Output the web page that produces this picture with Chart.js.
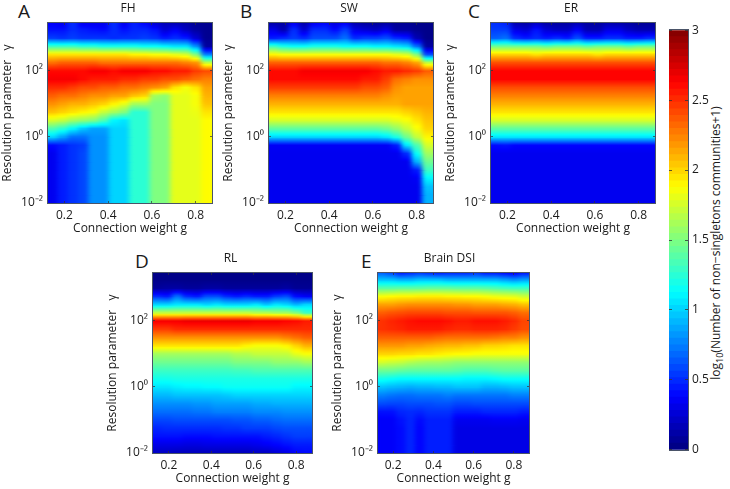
<!DOCTYPE html>
<html><head><meta charset="utf-8">
<script src="https://cdn.jsdelivr.net/npm/chart.js@4"></script>
<style>
html,body{margin:0;padding:0;background:#fff;width:730px;height:489px;overflow:hidden;font-family:"Open Sans",sans-serif;color:#1a1a1a}
canvas{position:absolute}
.letter{position:absolute;font-size:19px;line-height:20px}
#cbt{position:absolute;left:716px;top:243px;width:300px;height:16px;margin-left:-150px;margin-top:-8px;text-align:center;font-size:12px;line-height:16px;transform:rotate(-90deg);white-space:nowrap}
#cbt sub{font-size:9px;line-height:0}
</style></head><body>
<svg width="0" height="0" style="position:absolute"><filter id="hsoft" x="-5%" y="0" width="110%" height="100%" color-interpolation-filters="sRGB"><feGaussianBlur stdDeviation="2.5 0"/></filter></svg>
<div class="letter" style="left:18px;top:1px">A</div>
<div class="letter" style="left:240px;top:1px">B</div>
<div class="letter" style="left:468px;top:1px">C</div>
<div class="letter" style="left:135px;top:251px">D</div>
<div class="letter" style="left:361px;top:251px">E</div>
<div id="cbt">log<sub>10</sub>(Number of non−singletons communities+1)</div>
<script>
const gValues=[.148,.195,.242,.289,.336,.383,.430,.477,.523,.570,.617,.664,.711,.758,.805,.852];
const logGammaLevels=[3.5,3.25,3,2.75,2.5,2.25,2,1.75,1.5,1.25,1,.75,.5,.25,0,-.25,-.5,-.75,-1,-1.25,-1.5,-1.75,-2];
const xTickValues=[.2,.4,.6,.8];
const yTickValues=[.01,1,100];
const yTickLabels=["10⁻²","10⁰","10²"];
const colorbarTicks=[0,.5,1,1.5,2,2.5,3];
const colorbarLabels=["0","0.5","1","1.5","2","2.5","3"];

const fhValues=[
[.35,.3,.5,.3,.3,.3,.5,.3,.45,.35,.2,.15,.1,.1,.05,.05],
[.42,.42,.5,.45,.42,.4,.5,.42,.48,.48,.42,.25,.35,.2,.1,.05],
[.55,.52,.55,.52,.52,.52,.5,.52,.52,.55,.52,.45,.5,.45,.25,.05],
[1.3,1.3,1.3,1.25,1.25,1.2,1.2,1.2,1.2,1.15,1.15,1.1,1.05,1.05,.8,.1],
[1.95,1.95,1.95,1.95,1.95,1.95,1.95,1.95,1.9,1.9,1.85,1.85,1.8,1.75,1.5,.75],
[2.3,2.35,2.35,2.35,2.35,2.3,2.3,2.3,2.3,2.3,2.3,2.3,2.3,2.25,2.2,1.7],
[2.6,2.6,2.6,2.6,2.65,2.65,2.6,2.65,2.65,2.65,2.6,2.6,2.55,2.55,2.45,2.4],
[2.65,2.65,2.65,2.6,2.55,2.55,2.55,2.5,2.5,2.45,2.45,2.4,2.4,2.35,2.3,2.25],
[2.5,2.5,2.45,2.4,2.4,2.35,2.35,2.3,2.3,2.25,2.2,2.15,1.95,1.85,1.95,2.15],
[2.35,2.3,2.3,2.25,2.2,2.2,2.15,2.15,2.05,2,1.6,1.55,1.8,1.8,1.85,2.1],
[2.2,2.15,2.1,2.1,2.05,2,1.9,1.8,1.6,1.6,1.5,1.5,1.8,1.8,1.85,2.05],
[2.05,2,1.95,1.9,1.85,1.7,1.6,1.5,1.25,1.25,1.5,1.5,1.8,1.8,1.82,1.95],
[1.75,1.7,1.6,1.55,1.5,1.35,1.1,1.05,1.25,1.25,1.5,1.5,1.8,1.8,1.8,1.88],
[1.35,1.25,1.1,.95,.85,.85,1,1,1.25,1.25,1.5,1.5,1.8,1.8,1.8,1.88],
[1,.85,.7,.7,.8,.8,1,1,1.25,1.25,1.5,1.5,1.8,1.8,1.8,1.88],
[.4,.45,.52,.55,.8,.8,1,1,1.25,1.25,1.5,1.5,1.8,1.8,1.8,1.88],
[.33,.45,.52,.58,.8,.8,1,1,1.25,1.25,1.5,1.5,1.8,1.8,1.8,1.88],
[.33,.45,.52,.58,.8,.8,1,1,1.25,1.25,1.5,1.5,1.8,1.8,1.8,1.88],
[.33,.45,.52,.58,.8,.8,1,1,1.25,1.25,1.5,1.5,1.8,1.8,1.8,1.88],
[.33,.45,.52,.58,.8,.8,1,1,1.25,1.25,1.5,1.5,1.8,1.8,1.8,1.88],
[.33,.45,.52,.58,.8,.8,1,1,1.25,1.25,1.5,1.5,1.8,1.8,1.8,1.88],
[.33,.45,.52,.58,.8,.8,1,1,1.25,1.25,1.5,1.5,1.8,1.8,1.8,1.88],
[.33,.45,.52,.58,.8,.8,1,1,1.25,1.25,1.5,1.5,1.8,1.8,1.8,1.88]];

const swValues=[
[.08,.1,.3,.1,.3,.35,.25,.3,.1,.05,.05,.05,.05,.05,.03,.03],
[.3,.15,.5,.25,.5,.5,.4,.55,.3,.25,.2,.3,.1,.1,.05,.03],
[.45,.5,.55,.5,.6,.6,.6,.7,.5,.55,.55,.6,.5,.45,.15,.03],
[1.3,1.2,1.15,1.15,1.2,1.2,1.2,1.15,1.15,1.15,1.1,1.1,1.05,1,.7,.1],
[1.9,1.85,1.85,1.85,1.85,1.85,1.85,1.85,1.85,1.85,1.85,1.85,1.8,1.75,1.5,.6],
[2.35,2.35,2.35,2.35,2.35,2.35,2.35,2.35,2.35,2.35,2.35,2.3,2.3,2.25,2.15,1.7],
[2.6,2.6,2.6,2.65,2.65,2.65,2.65,2.65,2.65,2.65,2.6,2.55,2.55,2.5,2.45,2.35],
[2.6,2.6,2.6,2.6,2.6,2.6,2.6,2.6,2.6,2.55,2.55,2.45,2.3,2.25,2.2,2.2],
[2.45,2.45,2.45,2.45,2.45,2.45,2.45,2.45,2.45,2.4,2.4,2.35,2.2,2.15,2.15,2.15],
[2.25,2.25,2.25,2.25,2.25,2.25,2.25,2.25,2.25,2.25,2.25,2.2,2.15,2.15,2.15,2.15],
[2.1,2.1,2.1,2.1,2.1,2.1,2.1,2.1,2.1,2.1,2.1,2.1,2.1,2.15,2.15,2.15],
[1.95,1.95,1.95,1.95,1.95,1.95,1.95,1.95,1.95,1.95,1.95,1.95,1.95,2,2.05,2.1],
[1.75,1.75,1.75,1.75,1.75,1.75,1.75,1.75,1.75,1.75,1.75,1.75,1.8,1.85,1.95,2.05],
[1.4,1.4,1.4,1.4,1.4,1.4,1.4,1.4,1.4,1.4,1.4,1.45,1.55,1.7,1.85,2],
[1,1,1,1,1,1,1,1,1,1,1,1.05,1.2,1.45,1.7,1.9],
[.35,.35,.35,.35,.35,.35,.35,.35,.35,.35,.35,.35,.45,1.05,1.35,1.75],
[.33,.33,.33,.33,.33,.33,.33,.33,.33,.33,.33,.33,.33,.5,1.15,1.6],
[.33,.33,.33,.33,.33,.33,.33,.33,.33,.33,.33,.33,.33,.33,.9,1.45],
[.33,.33,.33,.33,.33,.33,.33,.33,.33,.33,.33,.33,.33,.33,.45,1.3],
[.33,.33,.33,.33,.33,.33,.33,.33,.33,.33,.33,.33,.33,.33,.35,1.1],
[.33,.33,.33,.33,.33,.33,.33,.33,.33,.33,.33,.33,.33,.33,.33,.95],
[.33,.33,.33,.33,.33,.33,.33,.33,.33,.33,.33,.33,.33,.33,.33,.9],
[.33,.33,.33,.33,.33,.33,.33,.33,.33,.33,.33,.33,.33,.33,.33,.9]];

const erValues=[
[.5,.45,.1,.08,.15,.08,.08,.08,.1,.08,.08,.1,.08,.08,.05,.05],
[.55,.55,.3,.25,.42,.25,.2,.2,.35,.15,.15,.3,.3,.2,.15,.15],
[.65,.7,.5,.45,.5,.45,.5,.45,.6,.45,.45,.5,.5,.45,.45,.5],
[1.45,1.45,1.45,1.45,1.45,1.4,1.45,1.45,1.45,1.4,1.45,1.45,1.45,1.4,1.45,1.45],
[2,2,2,2,1.95,2,2,2,2,2,1.95,2,2,2,2,2],
[2.4,2.4,2.4,2.4,2.4,2.4,2.4,2.4,2.4,2.4,2.4,2.4,2.4,2.4,2.4,2.4],
[2.62,2.62,2.62,2.62,2.62,2.62,2.62,2.62,2.62,2.62,2.62,2.62,2.62,2.62,2.62,2.62],
[2.62,2.62,2.62,2.62,2.62,2.62,2.62,2.62,2.62,2.62,2.62,2.62,2.62,2.62,2.62,2.62],
[2.4,2.4,2.4,2.4,2.4,2.4,2.4,2.4,2.4,2.4,2.4,2.4,2.4,2.4,2.4,2.4],
[2.25,2.25,2.25,2.25,2.25,2.25,2.25,2.25,2.25,2.25,2.25,2.25,2.25,2.25,2.25,2.25],
[2.1,2.1,2.1,2.1,2.1,2.1,2.1,2.1,2.1,2.1,2.1,2.1,2.1,2.1,2.1,2.1],
[1.95,1.95,1.95,1.95,1.95,1.95,1.95,1.95,1.95,1.95,1.95,1.95,1.95,1.95,1.95,1.95],
[1.75,1.75,1.75,1.75,1.75,1.75,1.75,1.75,1.75,1.75,1.75,1.75,1.75,1.75,1.75,1.75],
[1.4,1.4,1.4,1.4,1.4,1.4,1.4,1.4,1.4,1.4,1.4,1.4,1.4,1.4,1.4,1.4],
[1.05,1.05,1.05,1.05,1.05,1.05,1.05,1.05,1.05,1.05,1.05,1.05,1.05,1.05,1.05,1.05],
[.4,.42,.38,.38,.38,.38,.38,.38,.38,.38,.38,.38,.38,.38,.38,.38],
[.33,.33,.33,.33,.33,.33,.33,.33,.33,.33,.33,.33,.33,.33,.33,.33],
[.33,.33,.33,.33,.33,.33,.33,.33,.33,.33,.33,.33,.33,.33,.33,.33],
[.33,.33,.33,.33,.33,.33,.33,.33,.33,.33,.33,.33,.33,.33,.33,.33],
[.33,.33,.33,.33,.33,.33,.33,.33,.33,.33,.33,.33,.33,.33,.33,.33],
[.33,.33,.33,.33,.33,.33,.33,.33,.33,.33,.33,.33,.33,.33,.33,.33],
[.33,.33,.33,.33,.33,.33,.33,.33,.33,.33,.33,.33,.33,.33,.33,.33],
[.33,.33,.33,.33,.33,.33,.33,.33,.33,.33,.33,.33,.33,.33,.33,.33]];

const rlValues=[
[.02,.02,.02,.02,.02,.02,.02,.02,.02,.02,.02,.02,.02,.02,.02,.02],
[.03,.03,.03,.03,.03,.03,.03,.03,.03,.03,.03,.03,.03,.03,.03,.03],
[.08,.1,.1,.08,.08,.1,.1,.08,.08,.08,.08,.08,.08,.1,.06,.06],
[.5,.45,.7,.5,.45,.6,.6,.5,.45,.5,.45,.45,.55,.6,.4,.35],
[1,1,1.05,1.05,1.05,1,1.05,1,1,1,1.05,.95,1.05,1,.9,1],
[1.7,1.7,1.7,1.7,1.7,1.7,1.7,1.7,1.7,1.7,1.65,1.65,1.6,1.6,1.5,1.3],
[2.65,2.65,2.65,2.68,2.68,2.68,2.68,2.68,2.68,2.68,2.65,2.65,2.65,2.62,2.6,2.55],
[2.45,2.45,2.5,2.5,2.5,2.5,2.5,2.5,2.5,2.5,2.5,2.5,2.5,2.5,2.5,2.5],
[2.2,2.2,2.2,2.2,2.2,2.2,2.2,2.2,2.2,2.2,2.2,2.2,2.2,2.25,2.3,2.35],
[1.95,1.95,1.95,1.95,1.95,1.95,1.95,1.95,1.95,1.9,1.85,1.85,1.85,1.9,2,2.1],
[1.6,1.6,1.6,1.6,1.6,1.6,1.6,1.6,1.65,1.65,1.7,1.7,1.7,1.7,1.8,1.85],
[1.45,1.45,1.45,1.45,1.45,1.45,1.45,1.45,1.5,1.5,1.5,1.5,1.55,1.55,1.55,1.6],
[1.3,1.3,1.3,1.3,1.3,1.3,1.3,1.3,1.32,1.32,1.35,1.35,1.35,1.35,1.35,1.35],
[1.18,1.18,1.2,1.2,1.2,1.2,1.2,1.2,1.2,1.2,1.2,1.2,1.2,1.2,1.2,1.2],
[1.05,1.05,1.08,1.1,1.1,1.12,1.12,1.15,1.15,1.15,1.15,1.15,1.15,1.15,1.1,1.1],
[.92,.92,.95,.95,.95,.95,.95,.97,1,1,1,1,1,1,1,1],
[.8,.8,.8,.8,.82,.82,.85,.85,.85,.85,.88,.88,.9,.9,.9,.9],
[.7,.7,.7,.7,.72,.72,.75,.75,.75,.75,.78,.78,.78,.8,.8,.8],
[.58,.58,.6,.6,.6,.6,.6,.6,.62,.62,.65,.65,.68,.7,.7,.7],
[.48,.5,.5,.5,.5,.5,.5,.52,.52,.55,.55,.55,.58,.6,.6,.6],
[.42,.42,.42,.4,.4,.4,.42,.42,.42,.42,.42,.45,.48,.52,.55,.55],
[.3,.3,.3,.28,.28,.3,.3,.3,.3,.3,.32,.35,.38,.42,.45,.45],
[.2,.2,.18,.18,.18,.18,.18,.18,.18,.18,.2,.2,.25,.3,.38,.4]];

const dsiValues=[
[.6,.5,.35,.4,.45,.4,.35,.4,.4,.4,.45,.35,.35,.3,.25,.35],
[.95,.95,.9,.9,.95,.95,.95,.9,.9,.9,.9,.9,.9,.85,.8,.85],
[1.38,1.38,1.4,1.4,1.4,1.42,1.42,1.42,1.4,1.4,1.4,1.38,1.35,1.32,1.3,1.3],
[1.85,1.88,1.9,1.9,1.92,1.92,1.92,1.9,1.9,1.88,1.88,1.85,1.82,1.8,1.78,1.72],
[2.15,2.15,2.18,2.2,2.2,2.2,2.2,2.2,2.18,2.18,2.15,2.15,2.15,2.12,2.1,2.05],
[2.35,2.38,2.4,2.42,2.42,2.42,2.42,2.4,2.4,2.4,2.38,2.38,2.38,2.38,2.35,2.3],
[2.48,2.52,2.55,2.58,2.6,2.6,2.6,2.58,2.55,2.55,2.58,2.58,2.58,2.55,2.5,2.42],
[2.48,2.5,2.52,2.55,2.55,2.55,2.55,2.52,2.5,2.5,2.52,2.52,2.52,2.5,2.45,2.4],
[2.35,2.35,2.35,2.35,2.35,2.35,2.32,2.3,2.3,2.3,2.3,2.3,2.28,2.25,2.25,2.2],
[2.18,2.18,2.18,2.15,2.15,2.12,2.1,2.08,2.08,2.05,2.05,2,2,1.98,1.95,1.95],
[2,2,1.98,1.98,1.95,1.95,1.92,1.9,1.88,1.88,1.85,1.85,1.85,1.85,1.85,1.85],
[1.75,1.72,1.7,1.65,1.62,1.6,1.6,1.58,1.55,1.55,1.55,1.55,1.55,1.55,1.55,1.55],
[1.45,1.45,1.42,1.4,1.4,1.4,1.4,1.4,1.38,1.35,1.35,1.35,1.38,1.4,1.4,1.4],
[1.18,1.15,1.12,1.12,1.12,1.12,1.12,1.12,1.12,1.1,1.1,1.1,1.12,1.15,1.15,1.15],
[.95,.92,.9,.88,.9,.9,.92,.92,.95,.95,.95,.9,.9,.92,.95,.95],
[.75,.72,.7,.7,.72,.72,.72,.75,.72,.72,.72,.72,.72,.72,.75,.75],
[.6,.58,.58,.6,.6,.6,.62,.62,.58,.58,.6,.6,.6,.6,.6,.6],
[.42,.42,.48,.5,.48,.52,.52,.52,.45,.45,.45,.48,.48,.48,.48,.45],
[.36,.36,.42,.48,.4,.46,.46,.46,.33,.33,.33,.33,.35,.35,.35,.33],
[.36,.36,.4,.48,.38,.46,.46,.46,.3,.3,.3,.3,.3,.3,.3,.3],
[.36,.36,.4,.48,.38,.46,.46,.46,.3,.3,.3,.3,.3,.3,.3,.3],
[.36,.36,.4,.48,.38,.46,.46,.46,.3,.3,.3,.3,.3,.3,.3,.3],
[.36,.36,.4,.48,.38,.46,.46,.46,.3,.3,.3,.3,.3,.3,.3,.3]];

const FONT='"Open Sans",sans-serif', TXT='#1a1a1a', FRAME='#4a5468';
const clip01=v=>Math.max(0,Math.min(1,v));
function jet(v){const t=v/3;const c=k=>Math.round(255*clip01(1.5-Math.abs(4*t-k)));return `rgb(${c(3)},${c(2)},${c(1)})`;}
const framePlugin={id:'frame',afterDraw(c){const a=c.chartArea,x=c.ctx;x.save();x.strokeStyle=FRAME;x.lineWidth=1;
 x.strokeRect(Math.round(a.left)-.5,Math.round(a.top)-.5,Math.round(a.width)+1,Math.round(a.height)+1);x.restore();}};
// softens the steps between neighbouring columns, as in the reference image
const softenPlugin={id:'soften',afterDatasetsDraw(c){const a=c.chartArea,x=c.ctx;x.save();
 x.beginPath();x.rect(a.left,a.top,a.width,a.height);x.clip();
 x.filter='url(#hsoft)';x.drawImage(c.canvas,0,0);x.restore();}};

function panel(name,values,L,T,W,H,titleShift){
 const ML=48,MT=23,XH=33;
 const cw=Math.round(2*(W/2+titleShift+ML));    // canvas centred on the title position
 const PR=cw-ML-W;
 const cv=document.createElement('canvas');
 cv.style.cssText=`left:${L-ML}px;top:${T-MT}px;width:${cw}px;height:${H+MT+XH}px`;
 cv.width=cw;cv.height=H+MT+XH;document.body.appendChild(cv);
 const colW=W/gValues.length;
 const datasets=[];
 for(let r=0;r<logGammaLevels.length-1;r++){
  const hi=Math.pow(10,logGammaLevels[r]),lo=Math.pow(10,logGammaLevels[r+1]);
  datasets.push({
   label:name+' '+logGammaLevels[r],
   data:gValues.map(g=>({x:g,y:[lo,hi]})),
   barThickness:colW+.5,grouped:false,inflateAmount:.6,borderWidth:0,
   backgroundColor(ctx){
    const j=ctx.dataIndex,s=ctx.chart.scales.y,a=values[r][j],b=values[r+1][j];
    const y0=s?s.getPixelForValue(hi):NaN,y1=s?s.getPixelForValue(lo):NaN;
    if(!isFinite(y0)||!isFinite(y1))return jet(a);
    const g=ctx.chart.ctx.createLinearGradient(0,y0,0,y1);
    for(let k=0;k<=4;k++)g.addColorStop(k/4,jet(a+(b-a)*k/4));
    return g;
   }
  });
 }
 new Chart(cv,{type:'bar',data:{datasets},plugins:[softenPlugin,framePlugin],options:{
  responsive:false,animation:false,events:[],
  plugins:{legend:{display:false},tooltip:{enabled:false},
   title:{display:true,text:name,color:TXT,font:{family:FONT,size:12,weight:'normal',lineHeight:1.2},padding:{top:1.5,bottom:7.1}}},
  scales:{
   x:{type:'linear',offset:false,min:.125,max:.875,afterBuildTicks(s){s.ticks=xTickValues.map(v=>({value:v}));},
    afterFit(s){s.height=XH;},
    grid:{drawTicks:false,offset:false,z:1,color:'#333',lineWidth:.7},border:{display:false,dash:[2,H-4,2]},
    ticks:{color:TXT,autoSkip:false,maxRotation:0,padding:5,font:{family:FONT,size:12},callback:v=>v.toFixed(1)},
    title:{display:true,text:'Connection weight g',color:TXT,font:{family:FONT,size:12},padding:0}},
   y:{type:'logarithmic',min:.01,max:Math.pow(10,3.4545),afterBuildTicks(s){s.ticks=yTickValues.map(v=>({value:v}));},
    afterFit(s){s.width=ML;},
    grid:{drawTicks:false,z:1,color:'#333',lineWidth:.7},border:{display:false,dash:[2,W-4,2]},
    ticks:{color:TXT,autoSkip:false,padding:5,font:{family:FONT,size:12},callback:v=>yTickLabels[yTickValues.indexOf(v)]},
    title:{display:true,text:'Resolution parameter   γ',color:TXT,font:{family:FONT,size:12},padding:{top:0,bottom:0}}},
   rightSpace:{axis:'y',position:'right',afterFit(s){s.width=PR;},grid:{display:false},border:{display:false},ticks:{display:false}}
  }}});
}
panel('FH',fhValues,48,23,164,180,-2);
panel('SW',swValues,269,23,164,180,-2);
panel('ER',erValues,491,23,164,180,-2);
panel('RL',rlValues,153,273,159,180,-2);
panel('Brain DSI',dsiValues,378,273,151,180,-4);

// colour bar
(function(){
 const L=669,T=23,W=19,H=430,R=30;
 const cv=document.createElement('canvas');
 cv.style.cssText=`left:${L}px;top:${T-4}px;width:${W+R}px;height:${H+12}px`;
 cv.width=W+R;cv.height=H+12;document.body.appendChild(cv);
 const N=64,datasets=[];
 for(let i=0;i<N;i++){
  const lo=i*3/N,hi=(i+1)*3/N;
  datasets.push({label:'c'+i,data:[[lo,hi]],backgroundColor:jet((lo+hi)/2),grouped:false,barPercentage:1,categoryPercentage:1,inflateAmount:.5,borderWidth:0});
 }
 new Chart(cv,{type:'bar',data:{labels:['colour'],datasets},plugins:[framePlugin],options:{
  responsive:false,animation:false,events:[],
  layout:{padding:{left:0,top:4,bottom:8,right:0}},
  plugins:{legend:{display:false},tooltip:{enabled:false}},
  scales:{
   x:{display:false,grid:{display:false}},
   y:{position:'right',min:0,max:3,afterBuildTicks(s){s.ticks=colorbarTicks.map(v=>({value:v}));},
    afterFit(s){s.width=R;},
    grid:{drawTicks:false,z:1,color:'#333',lineWidth:.8},border:{display:false,dash:[3,W-6,3]},
    ticks:{color:TXT,autoSkip:false,padding:4,font:{family:FONT,size:12},callback:v=>colorbarLabels[colorbarTicks.indexOf(v)]}}
  }}});
})();
</script></body></html>
